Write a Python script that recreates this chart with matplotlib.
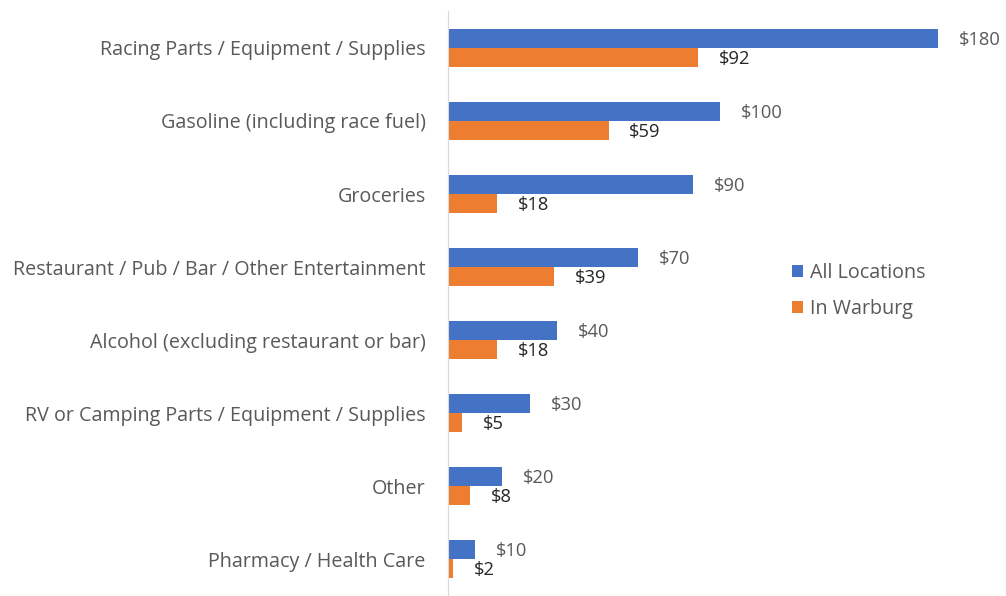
import matplotlib.pyplot as plt
import numpy as np

categories = [
    'Racing Parts / Equipment / Supplies',
    'Gasoline (including race fuel)',
    'Groceries',
    'Restaurant / Pub / Bar / Other Entertainment',
    'Alcohol (excluding restaurant or bar)',
    'RV or Camping Parts / Equipment / Supplies',
    'Other',
    'Pharmacy / Health Care',
]
all_locations = [180, 100, 90, 70, 40, 30, 20, 10]
in_warburg = [92, 59, 18, 39, 18, 5, 8, 2]

plt.rcParams['font.family'] = ['Open Sans', 'DejaVu Sans']

fig = plt.figure(figsize=(10.06, 5.96), dpi=100)
ax = fig.add_axes([0.4453, 0.0, 0.5410, 0.981])

y = np.arange(len(categories))
h = 0.26
blue = '#4472C4'
orange = '#ED7D31'

b1 = ax.barh(y - h / 2, all_locations, height=h, color=blue, label='All Locations')
b2 = ax.barh(y + h / 2, in_warburg, height=h, color=orange, label='In Warburg')

# value labels just past the end of each bar
for rect, v in zip(b1, all_locations):
    ax.annotate(f'${v}', (v, rect.get_y() + rect.get_height() / 2),
                xytext=(15, -1), textcoords='offset points',
                ha='left', va='center', fontsize=13.2, color='#595959',
                annotation_clip=False)
for rect, v in zip(b2, in_warburg):
    ax.annotate(f'${v}', (v, rect.get_y() + rect.get_height() / 2),
                xytext=(15, -1), textcoords='offset points',
                ha='left', va='center', fontsize=13.2, color='#262626',
                annotation_clip=False)

ax.set_yticks(y)
ax.set_yticklabels(categories, fontsize=14.2, color='#595959')
ax.tick_params(axis='y', length=0, pad=16)
ax.set_ylim(len(categories) - 0.5, -0.5)
ax.set_xlim(0, 200)
ax.set_xticks([])

for side in ['top', 'right', 'bottom']:
    ax.spines[side].set_visible(False)
ax.spines['left'].set_color('#D9D9D9')

leg = ax.legend(loc='upper left', bbox_to_anchor=(0.6, 0.6), frameon=False,
                fontsize=14.2, labelcolor='#595959', handlelength=0.55,
                handleheight=0.55, handletextpad=0.35, labelspacing=0.8)

fig.savefig('out.png', dpi=100)
